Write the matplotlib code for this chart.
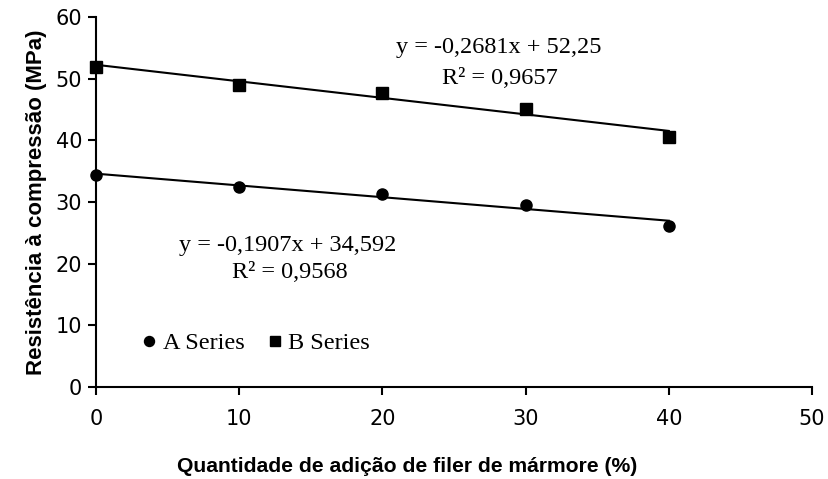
import numpy as np
import matplotlib.pyplot as plt

# Compressive strength vs marble filler content
filer = [0, 10, 20, 30, 40]
serie_a = [34.4, 32.4, 31.3, 29.5, 26.1]
serie_b = [51.9, 48.9, 47.7, 45.0, 40.6]

# Linear fits reported for each series
coef_a = (-0.1907, 34.592)
coef_b = (-0.2681, 52.25)
r2_a = 0.9568
r2_b = 0.9657

fig = plt.figure(figsize=(8.29, 4.79), dpi=100)
ax = fig.add_axes([96 / 829, 1 - 387 / 479, (812 - 96) / 829, (387 - 17) / 479])

xf = np.array([filer[0], filer[-1]])
ax.plot(xf, coef_a[0] * xf + coef_a[1], color='black', lw=1.5, zorder=2)
ax.plot(xf, coef_b[0] * xf + coef_b[1], color='black', lw=1.5, zorder=2)
ax.plot(filer, serie_a, 'o', color='black', ms=8, label='A Series', zorder=3, clip_on=False)
ax.plot(filer, serie_b, 's', color='black', ms=8, label='B Series', zorder=3, clip_on=False)

serif = 'Liberation Serif'
def fmt(v):
    return f'{v}'.replace('.', ',')

ax.text(28.1, 55.0, f'y = {fmt(coef_b[0])}x + {fmt(coef_b[1])}', family=serif, fontsize=17.5, ha='center', va='center')
ax.text(28.2, 50.1, f'R² = {fmt(r2_b)}', family=serif, fontsize=17.5, ha='center', va='center')
ax.text(13.4, 22.9, f'y = {fmt(coef_a[0])}x + {fmt(coef_a[1])}', family=serif, fontsize=17.5, ha='center', va='center')
ax.text(13.5, 18.5, f'R² = {fmt(r2_a)}', family=serif, fontsize=17.5, ha='center', va='center')

ax.legend(loc='center left', bbox_to_anchor=(0.061, 7.1 / 60), ncol=2, frameon=False,
          prop={'family': serif, 'size': 17.5}, handletextpad=0.15, columnspacing=0.85,
          handlelength=0.8, markerscale=0.9, borderpad=0, borderaxespad=0)

ax.set_xlim(0, 50)
ax.set_ylim(0, 60)
ax.set_xticks(range(0, 51, 10))
ax.set_yticks(range(0, 61, 10))
for s in ('top', 'right'):
    ax.spines[s].set_visible(False)
for s in ('left', 'bottom'):
    ax.spines[s].set_linewidth(1.5)
ax.tick_params(direction='out', length=6, width=1.5, labelsize=15)
ax.tick_params(axis='x', pad=10)
ax.tick_params(axis='y', pad=4)

ax.set_xlabel('Quantidade de adição de filer de mármore (%)', family='Liberation Sans',
              fontweight='bold', fontsize=15.2)
ax.xaxis.set_label_coords((407 - 96) / 716, -(466 - 387) / 370)
ax.xaxis.label.set_va('center')
ax.set_ylabel('Resistência à compressão (MPa)', family='Liberation Sans',
              fontweight='bold', fontsize=16, labelpad=6)

fig.savefig('out.png', dpi=100)
